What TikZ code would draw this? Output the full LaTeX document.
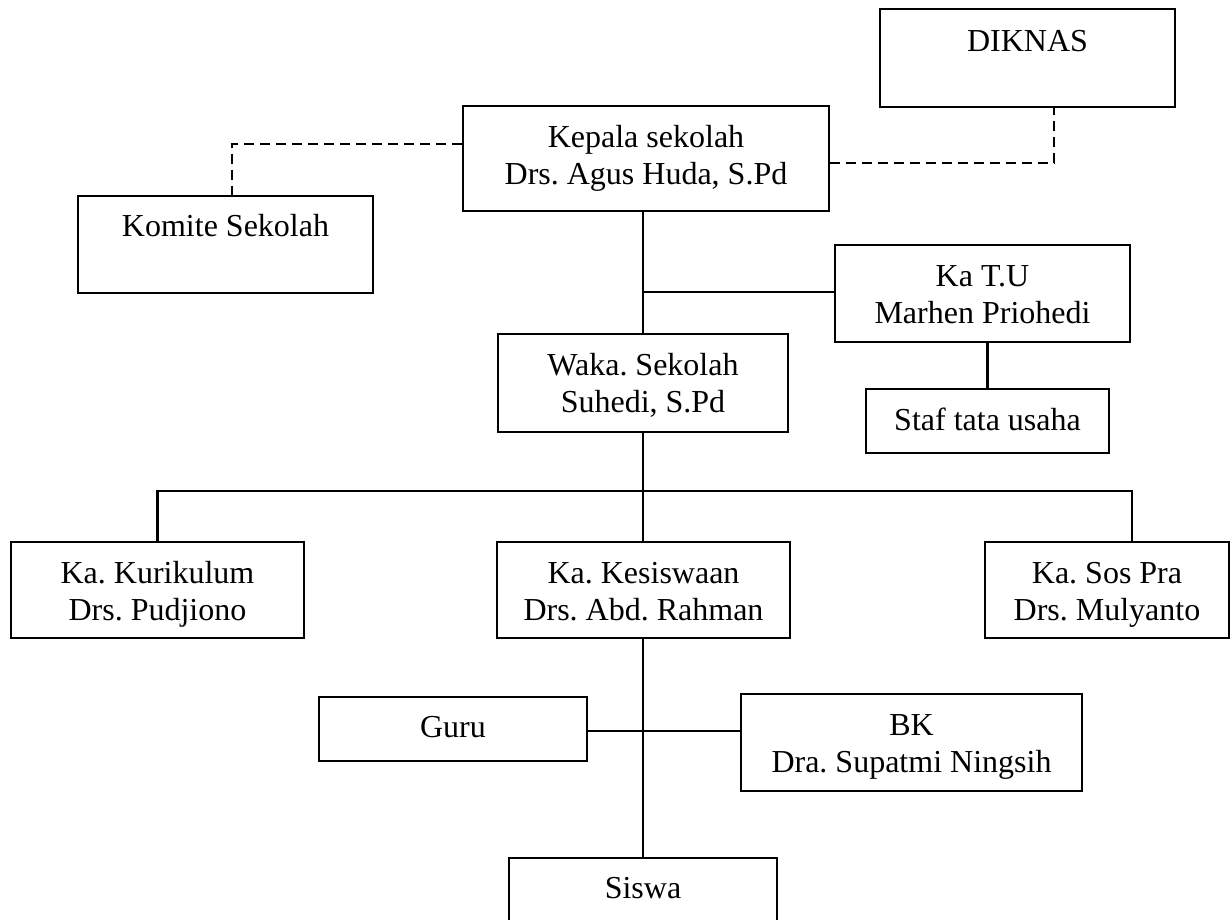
\documentclass[tikz,border=0pt]{standalone}
\usepackage{fontspec}
\setmainfont{Liberation Serif}
\usetikzlibrary{calc}
\begin{document}
\frenchspacing
\begin{tikzpicture}[x=1pt,y=-1pt,
  box/.style={draw=black,line width=1.3pt,inner sep=0pt,rectangle},
  txt/.style={anchor=base,inner sep=0pt,font=\fontsize{32}{37}\selectfont},
  thinline/.style={line width=1.3pt},
  thickline/.style={line width=2.2pt},
  dashline/.style={line width=2.2pt,dash pattern=on 10pt off 6pt}]
\fill[white] (0,0) rectangle (1231,919);
\useasboundingbox (0,0) rectangle (1231,919);

% boxes
\node[box,minimum width=295pt,minimum height=98pt] (diknas) at (1027.5,58) {};
\node[box,minimum width=366pt,minimum height=105pt] (kepala) at (646,158.5) {};
\node[box,minimum width=295pt,minimum height=97pt] (komite) at (225.5,244.5) {};
\node[box,minimum width=295pt,minimum height=97pt] (katu) at (982.5,293.5) {};
\node[box,minimum width=290pt,minimum height=98pt] (waka) at (643,383) {};
\node[box,minimum width=243pt,minimum height=64pt] (staf) at (987.5,421) {};
\node[box,minimum width=293pt,minimum height=96pt] (kurikulum) at (157.5,590) {};
\node[box,minimum width=293pt,minimum height=96pt] (kesiswaan) at (643.5,590) {};
\node[box,minimum width=244pt,minimum height=96pt] (sospra) at (1107,590) {};
\node[box,minimum width=268pt,minimum height=64pt] (guru) at (453,729) {};
\node[box,minimum width=341pt,minimum height=97pt] (bk) at (911.5,742.5) {};
\node[box,minimum width=268pt,minimum height=64pt] (siswa) at (643,890) {};

% texts
\node[txt] (tdiknas) at (1027.5,51) {DIKNAS};
\node[txt] (tkepala1) at (646,147) {Kepala sekolah};
\node[txt] (tkepala2) at (646,184) {Drs. Agus Huda, S.Pd};
\node[txt] (tkomite) at (225.5,236) {Komite Sekolah};
\node[txt] (tkatu1) at (982.5,286) {Ka T.U};
\node[txt] (tkatu2) at (982.5,323) {Marhen Priohedi};
\node[txt] (twaka1) at (643,375) {Waka. Sekolah};
\node[txt] (twaka2) at (643,412) {Suhedi, S.Pd};
\node[txt] (tstaf) at (987.5,430) {Staf tata usaha};
\node[txt] (tkur1) at (157.5,583) {Ka. Kurikulum};
\node[txt] (tkur2) at (157.5,620) {Drs. Pudjiono};
\node[txt] (tkes1) at (643.5,583) {Ka. Kesiswaan};
\node[txt] (tkes2) at (643.5,620) {Drs. Abd. Rahman};
\node[txt] (tsos1) at (1107,583) {Ka. Sos Pra};
\node[txt] (tsos2) at (1107,620) {Drs. Mulyanto};
\node[txt] (tguru) at (453,737) {Guru};
\node[txt] (tbk1) at (911.5,735) {BK};
\node[txt] (tbk2) at (911.5,772) {Dra. Supatmi Ningsih};
\node[txt] (tsiswa) at (643,898) {Siswa};

% junction coordinates
\coordinate (j1) at (643,292);
\coordinate (bar) at (643,491);

% dashed connectors
\draw[dashline] ([yshift=14.5pt]kepala.west) -| ([xshift=6.5pt]komite.north);
\draw[dashline] ([yshift=-4.5pt]kepala.east) -| ([xshift=26.5pt]diknas.south);

% solid connectors
\draw[thinline] ([xshift=-3pt]kepala.south) -- (waka.north);
\draw[thinline] (j1) -- (j1 -| katu.west);
\draw[thickline] (staf.north |- katu.south) -- (staf.north);
\draw[thinline] (waka.south) -- (waka.south |- kesiswaan.north);
\draw[thickline] (kurikulum.north) -- (kurikulum.north |- bar)
  -- ([xshift=25pt]sospra.north |- bar) -- ([xshift=25pt]sospra.north);
\draw[thinline] (kesiswaan.south -| siswa.north) -- (siswa.north);
\draw[thickline] ([yshift=-2pt]guru.east) -- ([yshift=-2pt]guru.east -| bk.west);
\end{tikzpicture}
\end{document}
